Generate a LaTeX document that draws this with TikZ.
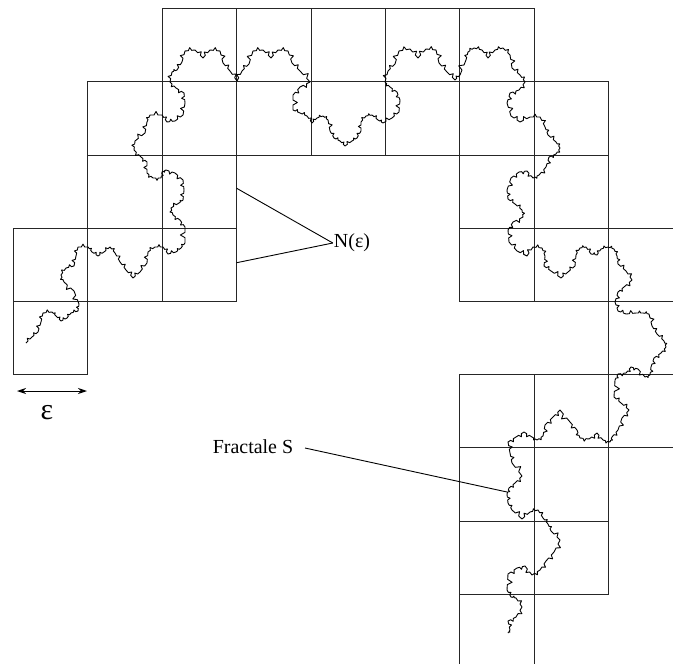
\documentclass[tikz,border=0pt]{standalone}
\usepackage{fontspec}
\setmainfont{Liberation Serif}
\usetikzlibrary{decorations.fractals,arrows.meta}
\begin{document}
\begin{tikzpicture}[x=1bp,y=-1bp,
  cell/.style={draw=black!85, line width=1.1bp},
  koch/.style={line width=0.9bp, line join=round, decoration=Koch snowflake},
  lbl/.style={inner sep=1bp, font=\fontsize{20}{24}\selectfont},
  pointer/.style={line width=0.9bp}]
\fill[white] (0,0) rectangle (673,664);
\useasboundingbox (0,0) rectangle (673,664);
\clip (0,0) rectangle (673,664);
% boxes of the covering
\foreach \i/\j in {2/0,3/0,4/0,5/0,6/0,
                   1/1,2/1,3/1,4/1,5/1,6/1,7/1,
                   1/2,2/2,6/2,7/2,
                   0/3,1/3,2/3,6/3,7/3,8/3,
                   0/4,8/4,
                   6/5,7/5,8/5,
                   6/6,7/6,
                   6/7,7/7,
                   6/8}
  \draw[cell] ({13.5+74.4*\i},{8.7+73.2*\j}) rectangle ++(74.4,73.2);
% fractal curve S
\draw[koch] decorate {
 (26,343) -- (32,337) -- (38,332) -- (41,322) -- (43,313) -- (52,312) -- (56,316) -- (61,321) -- (67,318) -- (71,313) -- (78,311) -- (79,304) -- (74,291) -- (64,282) -- (61,275) -- (66,268) -- (74,266) -- (76,256) -- (78,247)
 -- (88,247) -- (92,252) -- (98,256) -- (104,252) -- (110,247) -- (115,253) -- (120,262) -- (126,270) -- (133,278) -- (140,272) -- (147,263) -- (148,252) -- (155,247) -- (163,247) -- (168,254) -- (176,252) -- (181,248) -- (185,243)
 -- (185,227) -- (180,220) -- (173,215) -- (171,208) -- (179,203) -- (183,200) -- (184,190) -- (183,180) -- (175,173) -- (166,170) -- (162,172) -- (161,178) -- (153,178) -- (147,173) -- (147,162) -- (141,157) -- (134,150) -- (135,141) -- (145,133) -- (147,122) -- (150,115) -- (162,115) -- (167,122) -- (175,121) -- (183,115) -- (185,103) -- (184,93) -- (176,88) -- (170,82)
 -- (172,72) -- (177,70) -- (182,62) -- (185,51) -- (195,50) -- (203,58) -- (210,50) -- (220,51) -- (223,63) -- (230,71) -- (237,81)
 -- (242,71) -- (249,64) -- (253,51) -- (263,50) -- (271,58) -- (278,50) -- (288,51) -- (292,63) -- (300,71) -- (310,82)
 -- (300,87) -- (293,95) -- (293,110) -- (300,113) -- (307,116) -- (312,123)
 -- (317,118) -- (323,116) -- (328,120) -- (330,131) -- (334,138) -- (340,141) -- (345,146) -- (352,141) -- (357,138) -- (361,131) -- (361,122) -- (366,116) -- (372,115) -- (378,120) -- (383,123)
 -- (392,118) -- (399,112) -- (400,100) -- (397,92) -- (390,87) -- (385,82)
 -- (388,71) -- (395,64) -- (399,51) -- (410,49) -- (418,58) -- (426,49) -- (436,50) -- (439,63) -- (447,72) -- (455,80) -- (460,75)
 -- (466,60) -- (468,52) -- (474,48) -- (482,50) -- (488,58) -- (495,50) -- (503,48) -- (510,55) -- (512,68) -- (520,75) -- (525,82)
 -- (519,90) -- (510,93) -- (507,103) -- (511,116) -- (520,122) -- (530,117) -- (540,117) -- (545,127) -- (548,135) -- (556,142) -- (560,148) -- (556,154) -- (549,157) -- (546,167) -- (539,175) -- (533,178) -- (527,171) -- (519,172) -- (511,178) -- (507,190) -- (508,199) -- (515,204) -- (522,210) -- (523,217) -- (513,222) -- (508,230) -- (509,242) -- (517,251) -- (527,256) -- (533,247)
 -- (542,248) -- (545,256) -- (544,266) -- (551,271) -- (561,278) -- (568,272) -- (575,266) -- (576,255) -- (580,248) -- (586,247) -- (591,254) -- (597,255) -- (601,249) -- (608,247) -- (614,249) -- (617,256) -- (618,264) -- (626,271) -- (632,280) -- (624,287) -- (618,292) -- (615,302) -- (618,311) -- (626,314) -- (636,313) -- (643,313) -- (649,314) -- (652,326) -- (657,334) -- (664,341) -- (666,347) -- (661,353) -- (654,358) -- (651,367) -- (650,375) -- (645,377) -- (638,369) -- (631,367) -- (626,373) -- (618,374) -- (615,380) -- (614,397) -- (621,403) -- (629,410) -- (622,418) -- (618,430) -- (612,437) -- (610,442)
 -- (603,440) -- (597,433) -- (589,439) -- (580,438) -- (577,430) -- (570,422) -- (560,410) -- (553,417) -- (545,425) -- (543,436) -- (537,440) -- (532,437) -- (524,432) -- (516,437) -- (508,442)
 -- (510,453) -- (512,463) -- (522,476) -- (515,483) -- (509,488) -- (507,494) -- (508,503) -- (512,510) -- (522,519) -- (530,512) -- (538,510) -- (543,518) -- (548,524) -- (551,531) -- (560,540) -- (554,552) -- (546,561) -- (540,570) -- (532,575) -- (525,566) -- (517,568) -- (508,574) -- (507,590) -- (511,597) -- (516,598) -- (522,607) -- (516,617) -- (508,621) -- (510,630) -- (508,633)
};
% labels
\node[lbl] (N) at (352,243) {N(ε)};
\coordinate (b1) at (236.7,188.3);
\coordinate (b2) at (236.7,262.7);
\draw[pointer] (b1) -- (N.west);
\draw[pointer] (b2) -- (N.west);
\node[lbl] (F) at (253,447) {Fractale S};
\coordinate (f1) at (305,448);
\coordinate (f2) at (507,492);
\draw[pointer] (f1) -- (f2);
\coordinate (e1) at (17,391);
\coordinate (e2) at (87,391);
\draw[line width=1bp, {Stealth[length=9bp,width=6bp]}-{Stealth[length=9bp,width=6bp]}] (e1) -- (e2);
\node[inner sep=0, font=\fontsize{30}{32}\selectfont] (E) at (47,413) {ε};
\end{tikzpicture}
\end{document}
